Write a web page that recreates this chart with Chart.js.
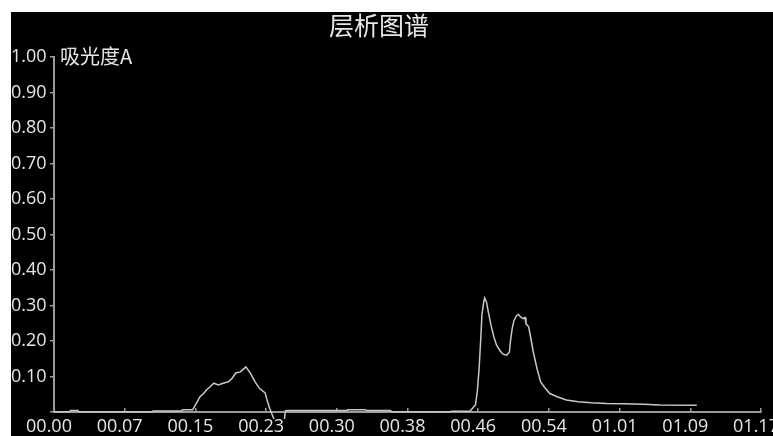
<!DOCTYPE html>
<html>
<head>
<meta charset="utf-8">
<script src="https://cdn.jsdelivr.net/npm/chart.js@4"></script>
<style>
  body { margin: 0; background: #fff; overflow: hidden; width: 773px; height: 436px; }
  #wrap { position: absolute; left: 11px; top: 12px; width: 800px; height: 424px; background: #000; }
</style>
</head>
<body>
<div id="wrap"><canvas id="chart"></canvas></div>
<script>
// Data (time in seconds, absorbance)
const chartTitle = '层析图谱';
const yAxisTitle = '吸光度A';
const xTickLabels = ['00.00', '00.07', '00.15', '00.23', '00.30', '00.38', '00.46', '00.54', '01.01', '01.09', '01.17'];
const xMax = 77;
const times = [0, 1.7, 1.8, 2.6, 2.7, 10.7, 10.8, 13.9, 14.0, 15.1, 15.5, 15.9, 16.3, 16.6, 17.0, 17.4, 17.9, 18.4, 19.0, 19.4,
    19.8, 20.3, 20.6, 20.9, 21.4, 21.9, 22.4, 23.0, 23.2, 23.5, 23.9, 24.3, 25.0, 25.2, 25.4, 31.9, 32.0, 33.9, 34.1, 36.6,
    36.8, 43.2, 43.3, 45.3, 45.9, 46.1, 46.3, 46.5, 46.6, 46.8, 46.9, 47.1, 47.3, 47.6, 47.9, 48.2, 48.6, 48.9, 49.3, 49.6,
    49.7, 49.9, 50.1, 50.4, 50.6, 50.8, 51.1, 51.3, 51.4, 51.7, 51.9, 52.2, 52.6, 53.0, 53.5, 54.0, 54.8, 55.8, 57.1, 58.5,
    60.2, 62.0, 64.2, 66.0, 70.0];
const absorbance = [0.001, 0.001, 0.004, 0.004, 0.001, 0.001, 0.003, 0.003, 0.006, 0.006, 0.024, 0.043, 0.052, 0.062, 0.071, 0.081, 0.076, 0.081, 0.085, 0.095,
    0.110, 0.113, 0.120, 0.127, 0.109, 0.085, 0.066, 0.054, 0.034, 0.010, -0.017, -0.040, -0.040, 0.003, 0.004, 0.004, 0.006, 0.006, 0.004, 0.004,
    0.001, 0.001, 0.002, 0.002, 0.020, 0.057, 0.123, 0.216, 0.272, 0.310, 0.321, 0.310, 0.282, 0.244, 0.212, 0.188, 0.172, 0.163, 0.160, 0.169,
    0.197, 0.235, 0.258, 0.272, 0.275, 0.268, 0.263, 0.266, 0.249, 0.240, 0.212, 0.169, 0.123, 0.085, 0.067, 0.052, 0.043, 0.034, 0.029, 0.026,
    0.024, 0.023, 0.022, 0.020, 0.019];

const axisColor = '#9a9a9a';
const textColor = '#e6e6e6';
const tickFont = { family: '"Open Sans", sans-serif', size: 18 };

// Title and y axis caption drawn as canvas text
const captions = {
    id: 'captions',
    afterDraw(chart) {
        const ctx = chart.ctx;
        const area = chart.chartArea;
        ctx.save();
        ctx.fillStyle = textColor;
        ctx.textBaseline = 'middle';
        ctx.textAlign = 'center';
        ctx.font = '25px "Noto Sans CJK SC", sans-serif';
        ctx.fillText(chartTitle, 368, 13);
        ctx.textAlign = 'left';
        ctx.font = '20px "Noto Sans CJK SC", sans-serif';
        ctx.fillText(yAxisTitle, area.left + 6, chart.scales.y.getPixelForValue(1) - 1);
        ctx.restore();
    }
};

const ctx = document.getElementById('chart').getContext('2d');
new Chart(ctx, {
    type: 'line',
    data: {
        datasets: [{
            data: times.map((t, i) => ({ x: t, y: absorbance[i] })),
            borderColor: '#c8c8c8',
            borderWidth: 1.5,
            pointRadius: 0,
            tension: 0,
            clip: { left: 0, top: 5, right: 0, bottom: 7 }
        }]
    },
    options: {
        responsive: true,
        maintainAspectRatio: false,
        animation: false,
        layout: { padding: { top: 45, right: 50, bottom: 0, left: 0 } },
        plugins: {
            legend: { display: false },
            tooltip: { enabled: false }
        },
        scales: {
            x: {
                type: 'linear',
                min: 0,
                max: xMax,
                afterBuildTicks: scale => {
                    scale.ticks = xTickLabels.map((l, i) => ({ value: i * xMax / (xTickLabels.length - 1) }));
                },
                afterFit: scale => { scale.height = 24; },
                border: { display: true, color: axisColor, width: 2 },
                grid: { drawOnChartArea: false, drawTicks: true, tickLength: -4, color: axisColor, lineWidth: 1.5 },
                ticks: {
                    color: textColor,
                    font: tickFont,
                    padding: 8,
                    labelOffset: -5,
                    maxRotation: 0,
                    autoSkip: false,
                    callback: (value, index) => xTickLabels[index]
                }
            },
            y: {
                min: 0,
                max: 1,
                afterFit: scale => { scale.width = 43; },
                border: { display: true, color: axisColor, width: 2 },
                grid: { drawOnChartArea: false, drawTicks: true, tickLength: 4, color: axisColor, lineWidth: 1.5 },
                ticks: {
                    stepSize: 0.1,
                    color: textColor,
                    font: tickFont,
                    crossAlign: 'far',
                    callback: value => value === 0 ? '' : value.toFixed(2)
                }
            }
        }
    },
    plugins: [captions]
});
</script>
</body>
</html>
